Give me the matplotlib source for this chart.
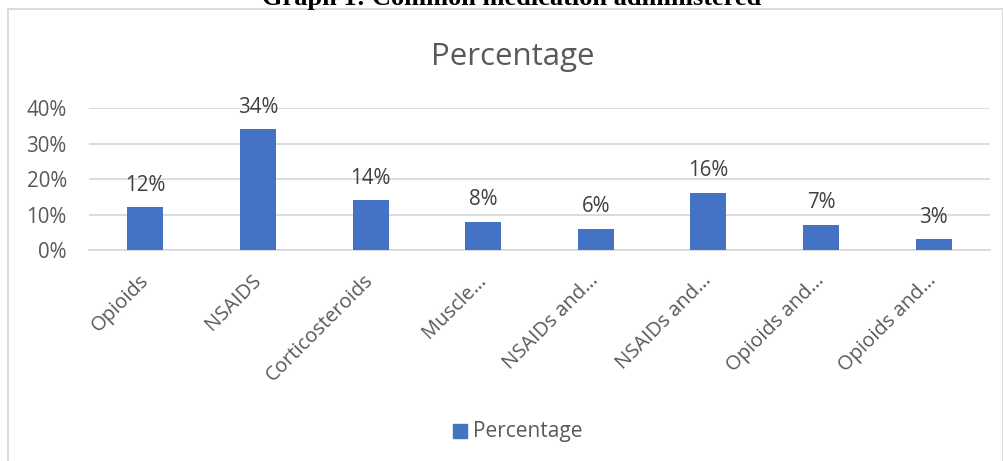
import matplotlib
matplotlib.use("Agg")
import matplotlib.pyplot as plt
from matplotlib.patches import Rectangle
from matplotlib.ticker import FuncFormatter
from matplotlib.transforms import ScaledTranslation

categories = ["Opioids", "NSAIDS", "Corticosteroids", "Muscle…", "NSAIDs and…",
              "NSAIDs and…", "Opioids and…", "Opioids and…"]
values = [12, 34, 14, 8, 6, 16, 7, 3]
labels = ["12%", "34%", "14%", "8%", "6%", "16%", "7%", "3%"]
series_name = "Percentage"
yticks = [0, 10, 20, 30, 40]

W, H = 1004, 461
fig = plt.figure(figsize=(W / 100, H / 100), dpi=100)
fig.patch.set_facecolor("white")

# chart border
fig.add_artist(Rectangle((8 / W, -0.05), (1003 - 8) / W, (H - 9.5) / H + 0.05,
                         transform=fig.transFigure, fill=False,
                         edgecolor="#d9d9d9", linewidth=1.3))

# caption cut at top
fig.text(512 / W, 1 - 4.5 / H, "Graph 1: Common medication administered",
         ha="center", va="baseline", fontsize=19, fontweight="bold",
         family="Liberation Serif", color="black")

ax = fig.add_axes([89 / W, 1 - 250 / H, (990 - 89) / W, (250 - 108) / H])
x = list(range(len(categories)))
ax.bar(x, values, width=0.32, color="#4472c4", zorder=3)
ax.set_xlim(-0.5, len(categories) - 0.5)
ax.set_ylim(0, 40)
ax.set_yticks(yticks)
ax.yaxis.set_major_formatter(FuncFormatter(lambda v, p: f"{int(v)}%"))
ax.grid(axis="y", color="#d9d9d9", linewidth=1.3, zorder=0)
ax.set_axisbelow(True)
for s in ["top", "right", "left"]:
    ax.spines[s].set_visible(False)
ax.spines["bottom"].set_color("#d9d9d9")
ax.spines["bottom"].set_linewidth(1.3)
ax.tick_params(axis="both", length=0, labelsize=14.8, colors="#595959", labelcolor="#595959")
ax.tick_params(axis="y", pad=16)
ax.set_xticks(x)
ax.set_xticklabels(categories, rotation=45, ha="right", rotation_mode="anchor",
                   fontsize=14.5, color="#595959", family="Open Sans")
for t in ax.get_yticklabels():
    t.set_family("Open Sans")
ax.tick_params(axis="x", pad=15)
shift = ScaledTranslation(-7 / 100, 0, fig.dpi_scale_trans)
for t in ax.get_xticklabels():
    t.set_transform(t.get_transform() + shift)

for xi, v, lab in zip(x, values, labels):
    ax.annotate(lab, (xi, v), xytext=(0, 16), textcoords="offset points",
                ha="center", va="center", fontsize=14.8, color="#404040",
                family="Open Sans")

fig.text(513 / W, 1 - 57 / H, "Percentage", ha="center", va="center",
         fontsize=22.5, color="#595959", family="Open Sans")

# legend
fig.add_artist(Rectangle((453 / W, 1 - 438 / H), 14 / W, 14 / H,
                         transform=fig.transFigure, color="#4472c4"))
fig.text(473 / W, 1 - 431 / H, series_name, ha="left", va="center",
         fontsize=15, color="#595959", family="Open Sans")

fig.savefig("out.png", dpi=100)
